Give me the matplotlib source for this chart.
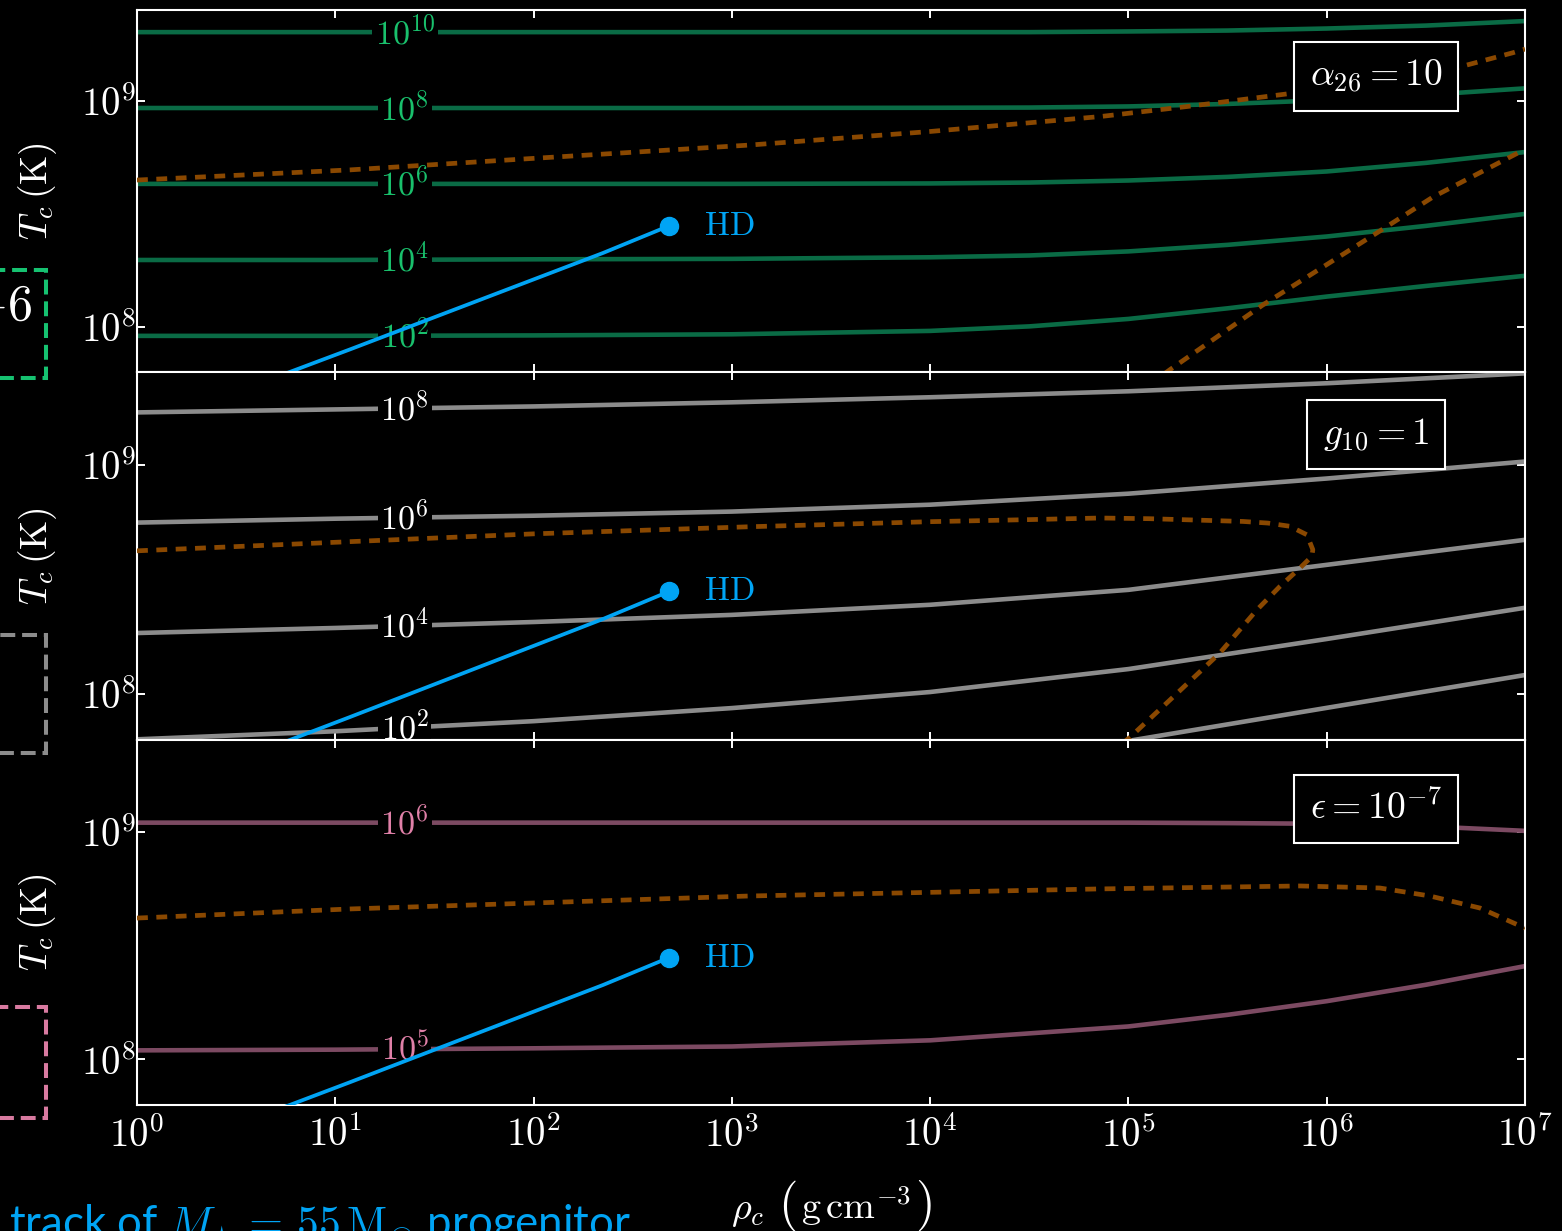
import numpy as np
import matplotlib.pyplot as plt
from matplotlib.patches import Rectangle
from matplotlib.offsetbox import TextArea, HPacker, AnnotationBbox

plt.rcParams['mathtext.fontset'] = 'cm'
plt.rcParams['font.family'] = 'serif'

# ========== data (log10 rho_c, log10 T_c) ==========
# top panel: alpha_26 = 10, contours 10^2 .. 10^10
a_x = [0, 1, 2, 3, 4, 4.5, 5, 5.5, 6, 6.5, 7]
a_lev10 = [9.305, 9.305, 9.305, 9.305, 9.305, 9.305, 9.308, 9.312, 9.321, 9.334, 9.354]
a_lev8 = [8.969, 8.969, 8.969, 8.969, 8.970, 8.971, 8.976, 8.987, 9.004, 9.027, 9.056]
a_lev6 = [8.633, 8.633, 8.633, 8.633, 8.635, 8.639, 8.648, 8.664, 8.688, 8.726, 8.774]
a_lev4 = [8.296, 8.296, 8.299, 8.301, 8.308, 8.316, 8.334, 8.363, 8.400, 8.447, 8.500]
a_lev2 = [7.960, 7.960, 7.962, 7.967, 7.982, 8.002, 8.035, 8.082, 8.134, 8.181, 8.226]
a_labels = ['$10^{10}$', '$10^{8}$', '$10^{6}$', '$10^{4}$', '$10^{2}$']

a_bound1_x = [0, 1.074, 2.0, 3.091, 4.0, 4.856, 5.3, 5.85, 6.3, 6.65, 6.94, 7.0]
a_bound1_y = [8.650, 8.695, 8.746, 8.805, 8.865, 8.931, 8.976, 9.037, 9.093, 9.146, 9.214, 9.230]
a_bound2_x = [5.10, 5.209, 5.678, 6.253, 6.536, 6.984, 7.0]
a_bound2_y = [7.74, 7.810, 8.097, 8.416, 8.575, 8.779, 8.786]

# middle panel: g_10 = 1
g_x = [0, 1, 2, 3, 4, 5, 6, 7]
g_lev8 = [9.227, 9.240, 9.253, 9.271, 9.293, 9.319, 9.354, 9.397]
g_lev6 = [8.747, 8.764, 8.777, 8.795, 8.825, 8.873, 8.939, 9.013]
g_lev4 = [8.266, 8.288, 8.314, 8.345, 8.389, 8.454, 8.563, 8.672]
g_lev2 = [7.803, 7.838, 7.882, 7.939, 8.009, 8.109, 8.240, 8.376]
g_labels = ['$10^{8}$', '$10^{6}$', '$10^{4}$', '$10^{2}$']
g_lev0_x = [4.95, 5.02, 6.0, 7.0]
g_lev0_y = [7.78, 7.799, 7.94, 8.083]

g_bound_x = [0, 1.074, 2.0, 3.091, 4.0, 4.5, 4.856, 5.108, 5.577, 5.703, 5.814, 5.900,
             5.930, 5.925, 5.865, 5.764, 5.648, 5.461, 5.209, 5.008, 4.95]
g_bound_y = [8.624, 8.664, 8.698, 8.729, 8.751, 8.760, 8.767, 8.764, 8.752, 8.745, 8.731, 8.694,
             8.629, 8.600, 8.549, 8.469, 8.367, 8.179, 7.974, 7.812, 7.77]

# bottom panel: epsilon = 1e-7
e_lev6_x = [0, 3, 5, 5.5, 6, 6.5, 7.0]
e_lev6_y = [9.040, 9.040, 9.040, 9.038, 9.035, 9.024, 9.004]
e_lev5_x = [0, 1, 2, 3, 4, 5, 5.5, 6, 6.5, 7]
e_lev5_y = [8.040, 8.043, 8.049, 8.057, 8.084, 8.145, 8.196, 8.256, 8.328, 8.410]
e_labels = ['$10^{6}$', '$10^{5}$']

e_bound_x = [0, 1.074, 3.091, 4.856, 5.865, 6.268, 6.52, 6.773, 7.0]
e_bound_y = [8.621, 8.661, 8.718, 8.749, 8.762, 8.753, 8.718, 8.665, 8.577]

# stellar track (same in every panel)
track_x = [0.3, 1.074, 2.35, 2.683]
track_y = [7.645, 7.90, 8.327, 8.447]

label_x = 1.35  # log10 rho where contour labels sit

# ========== style ==========
c_green, c_green_lab = '#0a6b45', '#19c06c'
c_gray, c_gray_lab = '#8c8c8c', 'white'
c_pink, c_pink_lab = '#7c4a62', '#e080a8'
c_brown = '#8a4800'
c_blue = '#00a4f4'
brown_dash = (0, (2.3, 1.8))

fig = plt.figure(figsize=(15.62, 12.31), dpi=100, facecolor='black')
W, H = 1562, 1231
L, R = 137, 1525
rows = [(10, 372), (372, 740), (740, 1105)]
axes = []
for top, bot in rows:
    ax = fig.add_axes([L / W, 1 - bot / H, (R - L) / W, (bot - top) / H])
    axes.append(ax)


def p(xs, ys):
    return 10 ** np.asarray(xs, float), 10 ** np.asarray(ys, float)


def contour_line(ax, xs, ys, color, label=None, lab_color=None):
    ax.plot(*p(xs, ys), color=color, lw=3.3, zorder=2, solid_capstyle='butt')
    if label is not None:
        yl = np.interp(label_x, xs, ys)
        ax.annotate(label, xy=(10 ** label_x, 10 ** yl), xytext=(0, -8),
                    textcoords='offset points', ha='center', va='baseline',
                    fontsize=24.5, color=lab_color, zorder=3,
                    bbox=dict(fc='black', ec='none', pad=2))


# top panel
ax = axes[0]
for ys, lab in zip([a_lev10, a_lev8, a_lev6, a_lev4, a_lev2], a_labels):
    contour_line(ax, a_x, ys, c_green, lab, c_green_lab)
ax.plot(*p(a_bound1_x, a_bound1_y), color=c_brown, lw=3.4, ls=brown_dash, zorder=4)
ax.plot(*p(a_bound2_x, a_bound2_y), color=c_brown, lw=3.4, ls=brown_dash, zorder=4)

# middle panel
ax = axes[1]
for ys, lab in zip([g_lev8, g_lev6, g_lev4, g_lev2], g_labels):
    contour_line(ax, g_x, ys, c_gray, lab, c_gray_lab)
contour_line(ax, g_lev0_x, g_lev0_y, c_gray)
ax.plot(*p(g_bound_x, g_bound_y), color=c_brown, lw=3.4, ls=brown_dash, zorder=4)

# bottom panel
ax = axes[2]
contour_line(ax, e_lev6_x, e_lev6_y, c_pink, e_labels[0], c_pink_lab)
contour_line(ax, e_lev5_x, e_lev5_y, c_pink, e_labels[1], c_pink_lab)
ax.plot(*p(e_bound_x, e_bound_y), color=c_brown, lw=3.4, ls=brown_dash, zorder=4)

box_text = [r'$\alpha_{26}=10$', r'$g_{10}=1$', r'$\epsilon=10^{-7}$']
box_y = [0.816, 0.830, 0.812]

for i, ax in enumerate(axes):
    ax.set_facecolor('black')
    tx, ty = p(track_x, track_y)
    ax.plot(tx, ty, color=c_blue, lw=2.7, zorder=5)
    ax.plot(tx[-1], ty[-1], 'o', color=c_blue, ms=13, zorder=6)
    ax.annotate(r'$\mathrm{HD}$', xy=(tx[-1], ty[-1]), xytext=(25, 0),
                textcoords='offset points', va='center', ha='left',
                fontsize=24, color=c_blue, zorder=6)
    ax.text(0.8927, box_y[i], box_text[i], transform=ax.transAxes,
            ha='center', va='center', fontsize=27, color='white', zorder=7,
            bbox=dict(boxstyle='square,pad=0.42', fc='black', ec='white', lw=1.5))

    ax.set_xscale('log')
    ax.set_yscale('log')
    ax.set_xlim(1, 1e7)
    ax.set_ylim(10 ** 7.8, 10 ** 9.403)
    ax.minorticks_off()
    ax.set_yticks([1e8, 1e9], ['$10^{8}$', '$10^{9}$'])
    ax.set_xticks([10.0 ** k for k in range(8)],
                  ['$10^{%d}$' % k for k in range(8)] if i == 2 else [''] * 8)
    ax.tick_params(which='both', direction='in', top=True, right=True,
                   length=6, width=1.4, color='white', labelcolor='white',
                   labelsize=28)
    ax.tick_params(axis='y', pad=0.5)
    ax.tick_params(axis='x', pad=8)
    for s in ax.spines.values():
        s.set_color('white')
        s.set_linewidth(1.5)
    ax.set_ylabel(r'$T_c\,(\mathrm{K})$', color='white', fontsize=27)
    ax.yaxis.set_label_coords(-0.056, 0.5)

# x label with large parentheses
tp = dict(color='white', fontsize=27.5)
pp = dict(color='white', fontsize=36)
unit = HPacker(children=[TextArea('$($', textprops=pp),
                         TextArea(r'$\mathrm{g\,cm}^{-3}$', textprops=tp),
                         TextArea('$)$', textprops=pp)],
               align='baseline', pad=0, sep=3)
xlab = HPacker(children=[TextArea(r'$\rho_c$', textprops=tp), unit],
               align='baseline', pad=0, sep=10)
axes[2].add_artist(AnnotationBbox(xlab, (0.5, -0.2), xycoords='axes fraction',
                                  box_alignment=(0.5, 1.0), frameon=False,
                                  annotation_clip=False))

# pieces of the slide left of the chart (cut off by the frame)
box_dash = (0, (3.7, 1.7))
for (top, bot), col in zip([(270, 378), (635, 753), (1007, 1118)],
                           ['#16c271', '#8c8c8c', '#d87aa0']):
    fig.add_artist(Rectangle((-0.05, 1 - bot / H), 0.05 + 46 / W, (bot - top) / H,
                             transform=fig.transFigure, fill=False, ec=col,
                             lw=2.9, ls=box_dash, clip_on=False))
fig.text(33 / W, 1 - 306 / H, '$-6$', color='white', fontsize=36,
         ha='right', va='center')
fig.text(9 / W, 1 - 1238 / H, r'track of $M_{\star}\,=\,55\,\mathrm{M}_{\odot}$ progenitor',
         family='Lato', fontsize=31.5, color=c_blue, ha='left', va='baseline')

fig.savefig('out.png', dpi=100, facecolor='black')
